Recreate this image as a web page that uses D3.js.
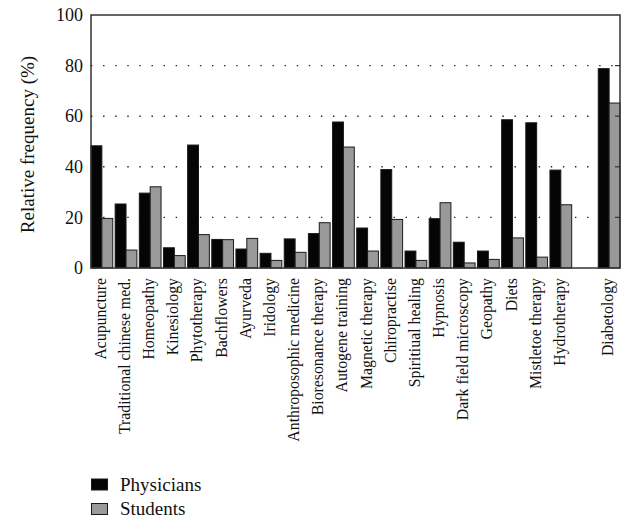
<!DOCTYPE html>
<html>
<head>
<meta charset="utf-8">
<script src="https://cdn.jsdelivr.net/npm/d3@7"></script>
<style>
  html, body { margin: 0; padding: 0; background: #fff; }
  svg { display: block; }
  text { font-family: "Liberation Serif", "Times New Roman", serif; fill: #111; }
</style>
</head>
<body>
<svg id="chart" width="626" height="521"></svg>
<script>
const categories = ["Acupuncture", "Traditional chinese med.", "Homeopathy", "Kinesiology",
  "Phytotherapy", "Bachflowers", "Ayurveda", "Iridology", "Anthroposophic medicine",
  "Bioresonance therapy", "Autogene training", "Magnetic therapy", "Chiropractise",
  "Spiritiual healing", "Hypnosis", "Dark field microscopy", "Geopathy", "Diets",
  "Mistletoe therapy", "Hydrotherapy", "Diabetology"];
const physicians = [48.3, 25.3, 29.6, 8.0, 48.6, 11.3, 7.5, 5.8, 11.5, 13.6, 57.7, 15.8,
  38.9, 6.7, 19.5, 10.2, 6.7, 58.6, 57.4, 38.7, 78.8];
const students = [19.6, 7.1, 32.1, 4.9, 13.2, 11.2, 11.7, 3.0, 6.2, 17.9, 47.8, 6.7,
  19.2, 3.0, 25.8, 2.0, 3.4, 11.9, 4.3, 25.0, 65.2];
const seriesNames = ["Physicians", "Students"];
const yTicks = [0, 20, 40, 60, 80, 100];
const gapBefore = "Diabetology";

const FONT = '"Liberation Serif", "Times New Roman", serif';
const svg = d3.select("#chart");
const L = 91, R = 620, T = 15, B = 268;

// slot domain with an empty slot before Diabetology
const slots = [];
categories.forEach(c => { if (c === gapBefore) slots.push("__gap__"); slots.push(c); });

const x = d3.scaleBand().domain(slots).range([L, R]).paddingInner(0.1).paddingOuter(0).align(0);
const xs = d3.scaleBand().domain(seriesNames).range([0, x.bandwidth()]).padding(0);
const y = d3.scaleLinear().domain([0, 100]).range([B, T]);
const colors = { Physicians: "#050505", Students: "#999999" };

// dotted grid lines
svg.append("g").selectAll("line").data(yTicks.filter(t => t > 0 && t < 100)).join("line")
  .attr("x1", L).attr("x2", R)
  .attr("y1", d => y(d)).attr("y2", d => y(d))
  .attr("stroke", "#222").attr("stroke-width", 1.4)
  .attr("stroke-dasharray", "1.4,10.7");

// bars
const rows = categories.map((c, i) => ({ c, vals: [physicians[i], students[i]] }));
const g = svg.append("g");
rows.forEach(r => {
  seriesNames.forEach((s, j) => {
    g.append("rect")
      .attr("x", x(r.c) + xs(s))
      .attr("y", y(r.vals[j]))
      .attr("width", xs.bandwidth())
      .attr("height", y(0) - y(r.vals[j]))
      .attr("fill", colors[s])
      .attr("stroke", "#1a1a1a").attr("stroke-width", 1);
  });
});

// frame
svg.append("rect").attr("x", L).attr("y", T).attr("width", R - L).attr("height", B - T)
  .attr("fill", "none").attr("stroke", "#333").attr("stroke-width", 1.5);

// right inward ticks
svg.append("g").selectAll("line").data(yTicks.filter(t => t > 0 && t < 100)).join("line")
  .attr("x1", R - 5).attr("x2", R).attr("y1", d => y(d)).attr("y2", d => y(d))
  .attr("stroke", "#333").attr("stroke-width", 1.2);

// y axis labels
const yAxis = d3.axisLeft(y).tickValues(yTicks).tickSize(0).tickPadding(8);
const ya = svg.append("g").attr("transform", `translate(${L},0)`).call(yAxis)
  .attr("font-family", FONT);
ya.select(".domain").remove();
ya.selectAll("text").style("font-family", FONT).style("font-size", "18px").attr("fill", "#111");

// y title
svg.append("text")
  .attr("transform", `translate(34,${(T + B) / 2 + 3}) rotate(-90)`)
  .attr("text-anchor", "middle")
  .style("font-family", FONT)
  .style("font-size", "19px")
  .text("Relative frequency (%)");

// x labels
const xAxis = d3.axisBottom(x).tickValues(categories).tickSize(0).tickPadding(0);
const xa = svg.append("g").attr("transform", `translate(0,${B})`).call(xAxis)
  .attr("font-family", FONT);
xa.select(".domain").remove();
xa.selectAll("text")
  .style("font-family", FONT).style("font-size", "15.8px").attr("fill", "#111")
  .attr("text-anchor", "end")
  .attr("x", 0).attr("y", 0).attr("dy", null)
  .attr("transform", "translate(4,10) rotate(-90)");

// legend
const leg = svg.append("g");
seriesNames.forEach((s, i) => {
  const yy = 479 + i * 24.5;
  leg.append("rect").attr("x", 91.5).attr("y", yy).attr("width", 16).attr("height", 11)
    .attr("fill", colors[s]).attr("stroke", "#1a1a1a").attr("stroke-width", 1);
  leg.append("text").attr("x", 120).attr("y", yy + 11.5)
    .style("font-family", FONT)
    .style("font-size", "19px").text(s);
});
</script>
</body>
</html>
